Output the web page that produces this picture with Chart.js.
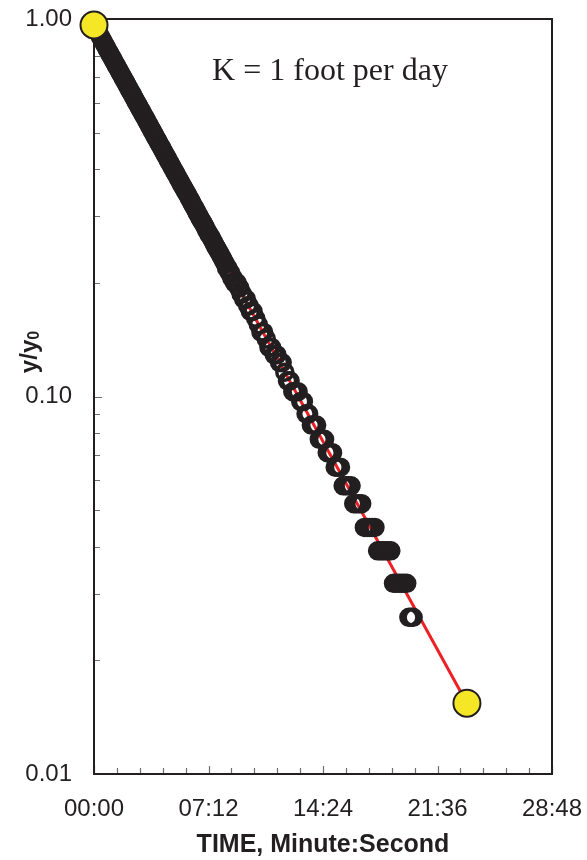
<!DOCTYPE html>
<html>
<head>
<meta charset="utf-8">
<title>Slug test – y/y0 vs time</title>
<script src="https://cdn.jsdelivr.net/npm/chart.js@4/dist/chart.umd.min.js"></script>
<style>
  html, body { margin: 0; padding: 0; background: #fff; }
  #wrap { width: 587px; height: 860px; }
</style>
</head>
<body>
<div id="wrap"><canvas id="chart" width="587" height="860"></canvas></div>
<script>
// Measured head ratio y/y0 against elapsed time (seconds)
const timeSec = [
  0, 5, 10, 15, 20, 25, 30, 35, 40, 45,
  50, 55, 60, 65, 70, 75, 80, 85, 90, 95,
  100, 105, 110, 115, 120, 125, 130, 135, 140, 145,
  150, 155, 160, 165, 170, 175, 180, 185, 190, 195,
  200, 205, 210, 215, 220, 225, 230, 235, 240, 245,
  250, 255, 260, 265, 270, 275, 280, 285, 290, 295,
  300, 305, 310, 315, 320, 325, 330, 335, 340, 345,
  350, 355, 360, 365, 370, 375, 380, 385, 390, 395,
  400, 405, 410, 415, 420, 425, 430, 435, 440, 445,
  450, 455, 460, 465, 470, 475, 480, 485, 490, 495,
  500, 505, 510, 515, 520, 525, 530, 535, 540, 545,
  550, 555, 560, 565, 570, 575, 580, 585, 590, 595,
  600, 610, 620, 630, 640, 650, 660, 670, 680, 690,
  700, 710, 720, 730, 740, 750, 760, 770, 780, 790,
  800, 810, 820, 830, 840, 850, 860, 870, 880, 890,
  900, 910, 920, 930, 940, 950, 960, 970, 980, 990,
  1000, 1010, 1020, 1030, 1040, 1050, 1060, 1070, 1080, 1090,
  1100, 1110, 1120, 1130, 1140, 1150, 1160, 1170, 1180,
  1188, 1196, 1204
];
const ratio = [
  0.964, 0.950, 0.936, 0.922, 0.909, 0.896, 0.883, 0.870, 0.857, 0.845,
  0.832, 0.820, 0.808, 0.796, 0.785, 0.773, 0.762, 0.751, 0.740, 0.729,
  0.719, 0.708, 0.698, 0.688, 0.678, 0.668, 0.658, 0.648, 0.639, 0.630,
  0.620, 0.611, 0.602, 0.594, 0.585, 0.576, 0.568, 0.560, 0.552, 0.544,
  0.536, 0.528, 0.520, 0.512, 0.505, 0.498, 0.490, 0.483, 0.476, 0.469,
  0.462, 0.456, 0.449, 0.442, 0.436, 0.430, 0.423, 0.417, 0.411, 0.405,
  0.399, 0.393, 0.388, 0.382, 0.376, 0.371, 0.365, 0.360, 0.355, 0.350,
  0.345, 0.340, 0.335, 0.330, 0.325, 0.320, 0.316, 0.311, 0.306, 0.302,
  0.297, 0.293, 0.289, 0.285, 0.281, 0.276, 0.272, 0.268, 0.265, 0.261,
  0.257, 0.253, 0.249, 0.246, 0.242, 0.239, 0.235, 0.232, 0.228, 0.225,
  0.219, 0.219, 0.213, 0.213, 0.206, 0.206, 0.200, 0.200, 0.200, 0.194,
  0.194, 0.187, 0.187, 0.181, 0.181, 0.181, 0.174, 0.174, 0.168, 0.168,
  0.168, 0.161, 0.155, 0.148, 0.148, 0.142, 0.135, 0.135, 0.129, 0.129,
  0.123, 0.123, 0.116, 0.110, 0.110, 0.103, 0.103, 0.103, 0.097, 0.097,
  0.090, 0.090, 0.084, 0.084, 0.084, 0.077, 0.077, 0.077, 0.071, 0.071,
  0.071, 0.065, 0.065, 0.065, 0.058, 0.058, 0.058, 0.058, 0.052, 0.052,
  0.052, 0.052, 0.045, 0.045, 0.045, 0.045, 0.045, 0.039, 0.039, 0.039,
  0.039, 0.039, 0.039, 0.032, 0.032, 0.032, 0.032, 0.032, 0.032,
  0.026, 0.026, 0.026
];

// Fitted straight line (K = 1 ft/day) and its end markers
const fitTime = [0, 1407];
const fitRatio = [0.964, 0.0154];

// Axis ticks
const xTicks = [0, 432, 864, 1296, 1728];
const yTicks = [0.01, 0.1, 1];

const ink = '#231f20';
const sans = '"Liberation Sans", Arial, sans-serif';

function mmss(v) {
  const m = Math.floor(v / 60);
  const s = Math.round(v - m * 60);
  return String(m).padStart(2, '0') + ':' + String(s).padStart(2, '0');
}

const points = timeSec.map((t, i) => ({ x: t, y: ratio[i] }));
const fitLine = fitTime.map((t, i) => ({ x: t, y: fitRatio[i] }));

// frame, inside tick marks, titles and the K label
const decorations = {
  id: 'decorations',
  beforeDatasetsDraw(chart) {
    const { ctx, chartArea: a, scales: { x, y } } = chart;
    ctx.save();
    ctx.strokeStyle = '#6d6e70';
    ctx.lineWidth = 1.2;
    ctx.beginPath();
    // x: 4 minor ticks between majors
    for (let i = 0; i < xTicks.length; i++) {
      const px = Math.round(x.getPixelForValue(xTicks[i])) + 0.5;
      ctx.moveTo(px, a.bottom); ctx.lineTo(px, a.bottom - 8);
      if (i < xTicks.length - 1) {
        const step = (xTicks[i + 1] - xTicks[i]) / 5;
        for (let k = 1; k < 5; k++) {
          const mx = Math.round(x.getPixelForValue(xTicks[i] + k * step)) + 0.5;
          ctx.moveTo(mx, a.bottom); ctx.lineTo(mx, a.bottom - 6);
        }
      }
    }
    // y: log minor ticks 2..9 in each decade
    for (let d = 0; d < yTicks.length; d++) {
      const py = Math.round(y.getPixelForValue(yTicks[d])) + 0.5;
      ctx.moveTo(a.left, py); ctx.lineTo(a.left + 8, py);
      if (d < yTicks.length - 1) {
        for (let k = 2; k <= 9; k++) {
          const my = Math.round(y.getPixelForValue(yTicks[d] * k)) + 0.5;
          ctx.moveTo(a.left, my); ctx.lineTo(a.left + 6, my);
        }
      }
    }
    ctx.stroke();

    ctx.strokeStyle = ink;
    ctx.lineWidth = 2;
    ctx.strokeRect(a.left, a.top, a.right - a.left, a.bottom - a.top);
    ctx.restore();
  },
  afterDraw(chart) {
    const { ctx, chartArea: a } = chart;
    ctx.save();
    ctx.fillStyle = ink;

    ctx.font = '32px "Liberation Serif", "Times New Roman", serif';
    ctx.textAlign = 'center';
    ctx.textBaseline = 'middle';
    ctx.fillText('K = 1 foot per day', 330, 72);

    ctx.font = 'bold 25px ' + sans;
    ctx.fillText('TIME, Minute:Second', (a.left + a.right) / 2, 845);

    // rotated y title with subscript 0
    ctx.translate(30, 352);
    ctx.rotate(-Math.PI / 2);
    ctx.textAlign = 'left';
    ctx.font = 'bold 24px ' + sans;
    const w1 = ctx.measureText('y/y').width;
    ctx.font = 'bold 16px ' + sans;
    const w2 = ctx.measureText('0').width;
    const x0 = -(w1 + w2) / 2;
    ctx.font = 'bold 24px ' + sans;
    ctx.fillText('y/y', x0, 0);
    ctx.font = 'bold 16px ' + sans;
    ctx.fillText('0', x0 + w1, 5);
    ctx.restore();
  }
};

new Chart(document.getElementById('chart'), {
  type: 'scatter',
  data: {
    datasets: [
      {
        label: 'ends',
        data: fitLine,
        order: 0,
        clip: false,
        pointRadius: 13.5,
        pointBorderWidth: 2,
        pointBackgroundColor: '#f6e726',
        pointBorderColor: ink,
        showLine: false
      },
      {
        label: 'measured',
        data: points,
        order: 1,
        clip: false,
        pointRadius: 8,
        pointBorderWidth: 3.5,
        pointBackgroundColor: 'rgba(0,0,0,0)',
        pointBorderColor: ink,
        showLine: false
      },
      {
        label: 'fit',
        data: fitLine,
        order: 2,
        clip: false,
        showLine: true,
        borderColor: '#ed2024',
        borderWidth: 3,
        pointRadius: 0
      }
    ]
  },
  options: {
    responsive: false,
    animation: false,
    devicePixelRatio: 1,
    layout: { padding: { top: 19, right: 35, left: 0, bottom: 0 } },
    plugins: {
      legend: { display: false },
      tooltip: { enabled: false }
    },
    scales: {
      x: {
        type: 'linear',
        min: 0,
        max: 1728,
        grid: { display: false, drawTicks: false },
        border: { display: false },
        afterFit(scale) {
          scale.height = 86;
          scale.paddingLeft = 0; scale.paddingRight = 0;
        },
        afterBuildTicks(scale) { scale.ticks = xTicks.map(v => ({ value: v })); },
        ticks: {
          padding: 21,
          color: ink,
          font: { family: sans, size: 24 },
          maxRotation: 0,
          autoSkip: false,
          callback: v => mmss(v)
        }
      },
      y: {
        type: 'logarithmic',
        min: 0.01,
        max: 1,
        grid: { display: false, drawTicks: false },
        border: { display: false },
        afterFit(scale) {
          scale.width = 94;
          scale.paddingTop = 0; scale.paddingBottom = 0;
        },
        afterBuildTicks(scale) { scale.ticks = yTicks.map(v => ({ value: v })); },
        ticks: {
          padding: 22,
          color: ink,
          font: { family: sans, size: 24 },
          autoSkip: false,
          callback: v => Number(v).toFixed(2)
        }
      }
    }
  },
  plugins: [decorations]
});
</script>
</body>
</html>
